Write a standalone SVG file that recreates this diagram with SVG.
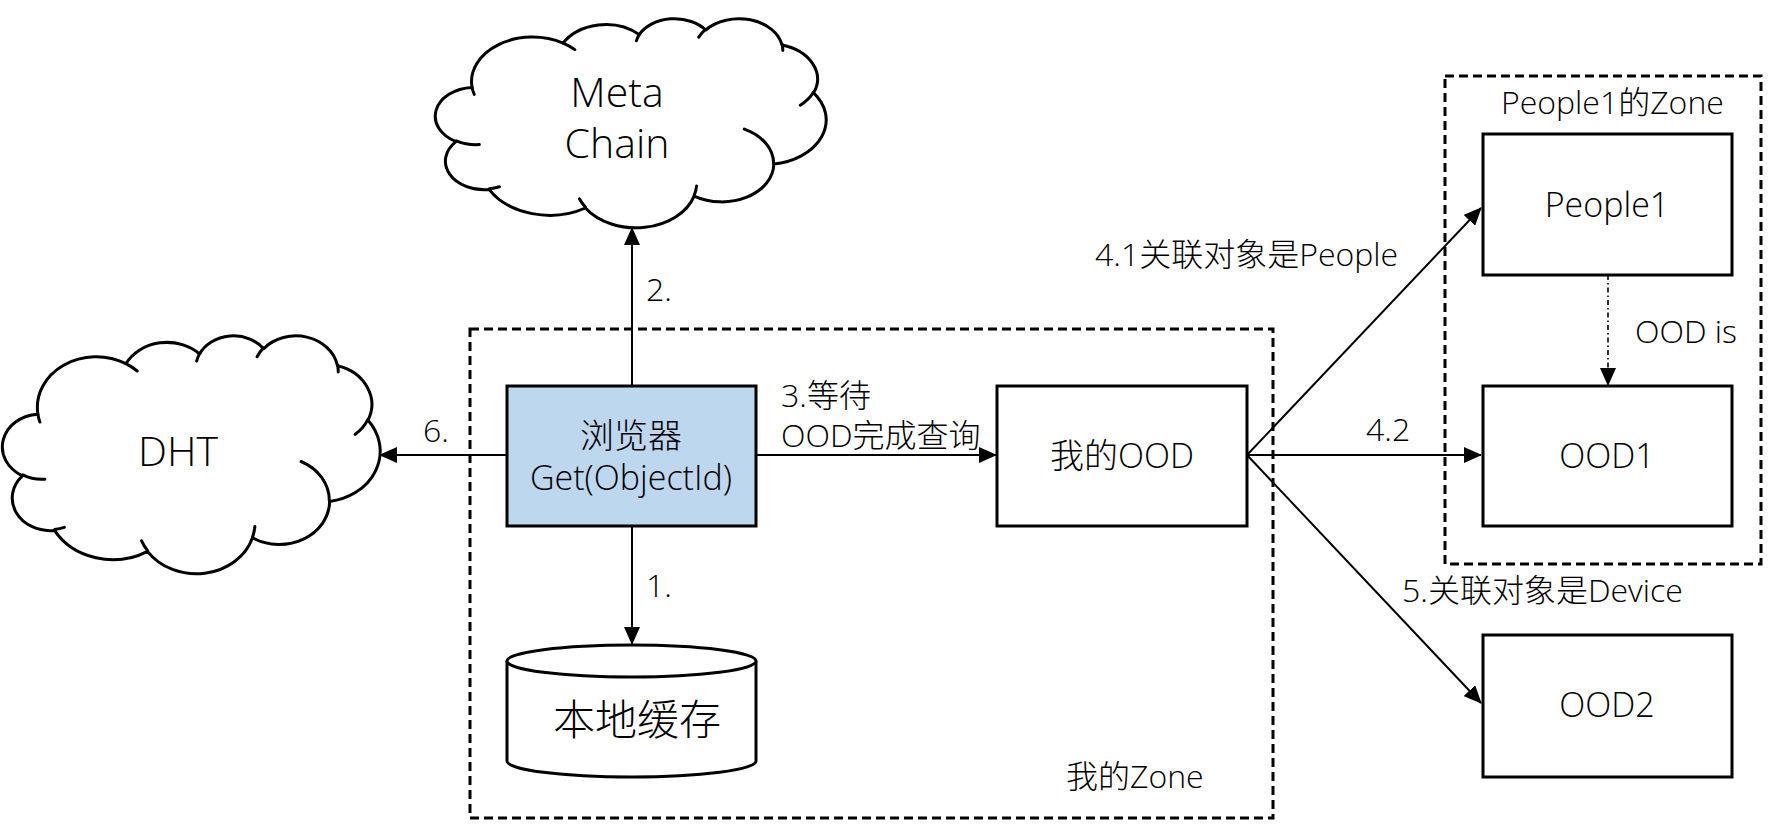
<svg xmlns="http://www.w3.org/2000/svg" width="1769" height="840" viewBox="0 0 1769 840">
  <style>
    text { font-family: "Open Sans", "Noto Sans CJK SC", sans-serif; font-weight: 300; fill: #000; }
    .node { font-size: 34px; text-anchor: middle; }
    .big { font-size: 41px; text-anchor: middle; }
    .lbl { font-size: 32px; }
    .box { fill: #fff; stroke: #000; stroke-width: 3; }
    .cloud { fill: #fff; stroke: #000; stroke-width: 3; stroke-linejoin: round; }
    .tail { fill: none; stroke: #000; stroke-width: 3; stroke-linecap: round; }
    .zone { fill: none; stroke: #000; stroke-width: 3; stroke-dasharray: 9 5; }
    .edge { fill: none; stroke: #000; stroke-width: 2; marker-end: url(#arr); }
    .dotted { fill: none; stroke: #000; stroke-width: 1.6; stroke-dasharray: 5 3 1.5 3; marker-end: url(#arr); }
  </style>
  <defs>
    <marker id="arr" markerUnits="userSpaceOnUse" markerWidth="18" markerHeight="16" viewBox="0 0 18 16" refX="17" refY="8" orient="auto">
      <path d="M0,0 L18,8 L0,16 Z" fill="#000"/>
    </marker>
  </defs>

  <rect width="1769" height="840" fill="#fff"/>

  <!-- zones -->
  <g id="zone-mine">
    <rect class="zone" x="470" y="329" width="803" height="489"/>
    <text class="lbl" x="1066" y="788">我的Zone</text>
  </g>
  <g id="zone-people1">
    <rect class="zone" x="1445" y="76" width="316" height="488"/>
    <text class="lbl" x="1501" y="114">People1的Zone</text>
  </g>

  <!-- Meta Chain cloud -->
  <g id="meta-chain">
    <path class="cloud" d="M472.1,87.5 A60.81,44.46 0 0 1 563.1,43.2 A48.02,35.16 0 0 1 639.2,34.6 A39.31,28.76 0 0 1 705.6,30.0 A43.74,31.91 0 0 1 782.0,45.0 A48.02,35.19 0 0 1 813.6,92.8 A61.01,44.61 0 0 1 773.8,164.1 A52.09,38.06 0 0 1 694.1,196.1 A60.80,44.58 0 0 1 585.4,208.0 A69.52,51.01 0 0 1 489.3,189.6 A39.26,28.63 0 0 1 456.0,141.6 A39.13,28.76 0 0 1 472.1,87.5 Z"/>
    <path class="tail" d="M479.3,144.6 A39.13,28.76 0 0 1 456.4,140.8 M499.4,186.8 A39.26,28.63 0 0 1 489.4,188.7 M585.4,207.1 A60.80,44.58 0 0 1 579.4,198.7 M696.6,186.1 A60.80,44.58 0 0 1 694.2,195.4 M744.3,129.1 A52.09,38.06 0 0 1 773.6,163.6 M813.4,92.3 A48.02,35.19 0 0 1 800.3,105.2 M782.1,44.3 A43.74,31.91 0 0 1 782.8,50.4 M698.8,37.1 A43.74,31.91 0 0 1 705.5,29.3 M636.4,40.8 A39.31,28.76 0 0 1 639.6,34.1 M563.1,43.1 A60.81,44.46 0 0 1 574.8,49.6 M474.2,94.4 A60.81,44.46 0 0 1 472.1,87.5"/>
    <text class="big" x="617" y="107">Meta</text>
    <text class="big" x="617" y="158">Chain</text>
  </g>

  <!-- DHT cloud -->
  <g id="dht">
    <path class="cloud" d="M37.9,414.2 A58.78,50.63 0 0 1 125.9,363.7 A46.42,40.04 0 0 1 199.5,353.9 A37.99,32.75 0 0 1 263.7,348.7 A42.27,36.33 0 0 1 337.5,365.7 A46.42,40.07 0 0 1 368.0,420.2 A58.97,50.80 0 0 1 329.6,501.4 A50.35,43.34 0 0 1 252.5,537.8 A58.77,50.77 0 0 1 147.5,551.3 A67.19,58.08 0 0 1 54.5,530.4 A37.95,32.60 0 0 1 22.4,475.8 A37.82,32.75 0 0 1 37.9,414.2 Z"/>
    <path class="tail" d="M44.8,479.2 A37.82,32.75 0 0 1 22.8,474.8 M64.3,527.3 A37.95,32.60 0 0 1 54.7,529.4 M147.4,550.4 A58.77,50.77 0 0 1 141.6,540.8 M254.9,526.5 A58.77,50.77 0 0 1 252.6,537.0 M301.1,461.5 A50.35,43.34 0 0 1 329.3,500.8 M367.8,419.6 A46.42,40.07 0 0 1 355.2,434.3 M337.6,364.9 A42.27,36.33 0 0 1 338.2,371.9 M257.1,356.8 A42.27,36.33 0 0 1 263.5,347.9 M196.7,361.0 A37.99,32.75 0 0 1 199.8,353.3 M125.9,363.6 A58.78,50.63 0 0 1 137.2,371.0 M39.9,422.0 A58.78,50.63 0 0 1 37.9,414.2"/>
    <text class="big" x="178" y="466">DHT</text>
  </g>

  <!-- connectors -->
  <g id="connectors">
    <path class="edge" d="M632,526 L632,644"/>
    <path class="edge" d="M632,385 L632,228"/>
    <path class="edge" d="M756,455 L996,455"/>
    <path class="edge" d="M507,455 L380,455"/>
    <path class="edge" d="M1247,455 L1481,208"/>
    <path class="edge" d="M1247,455 L1481,455"/>
    <path class="edge" d="M1247,455 L1481,703"/>
    <path class="dotted" d="M1608,275 L1608,385"/>
    <text class="lbl" x="646" y="301">2.</text>
    <text class="lbl" x="646" y="597">1.</text>
    <text class="lbl" x="423" y="442">6.</text>
    <text class="lbl" x="781" y="407">3.等待</text>
    <text class="lbl" x="781" y="447">OOD完成查询</text>
    <text class="lbl" x="1095" y="266">4.1关联对象是People</text>
    <text class="lbl" x="1366" y="441">4.2</text>
    <text class="lbl" x="1402" y="602">5.关联对象是Device</text>
    <text class="lbl" x="1635" y="343">OOD is</text>
  </g>

  <!-- nodes -->
  <g id="browser">
    <rect class="box" x="507" y="386" width="249" height="140" style="fill:#BDD7EE"/>
    <text class="node" x="631" y="448">浏览器</text>
    <text class="node" x="631" y="490">Get(ObjectId)</text>
  </g>
  <g id="local-cache">
    <path class="box" d="M507,661 L507,761 A124.5,16 0 0 0 756,761 L756,661"/>
    <ellipse class="box" cx="631.5" cy="661" rx="124.5" ry="16"/>
    <text class="node" x="637" y="735" style="font-size:42px">本地缓存</text>
  </g>
  <g id="my-ood">
    <rect class="box" x="997" y="386" width="250" height="140"/>
    <text class="node" x="1122" y="468">我的OOD</text>
  </g>
  <g id="people1">
    <rect class="box" x="1483" y="134" width="249" height="141"/>
    <text class="node" x="1607" y="217">People1</text>
  </g>
  <g id="ood1">
    <rect class="box" x="1483" y="386" width="249" height="140"/>
    <text class="node" x="1607" y="468">OOD1</text>
  </g>
  <g id="ood2">
    <rect class="box" x="1483" y="635" width="249" height="142"/>
    <text class="node" x="1607" y="717">OOD2</text>
  </g>
</svg>
